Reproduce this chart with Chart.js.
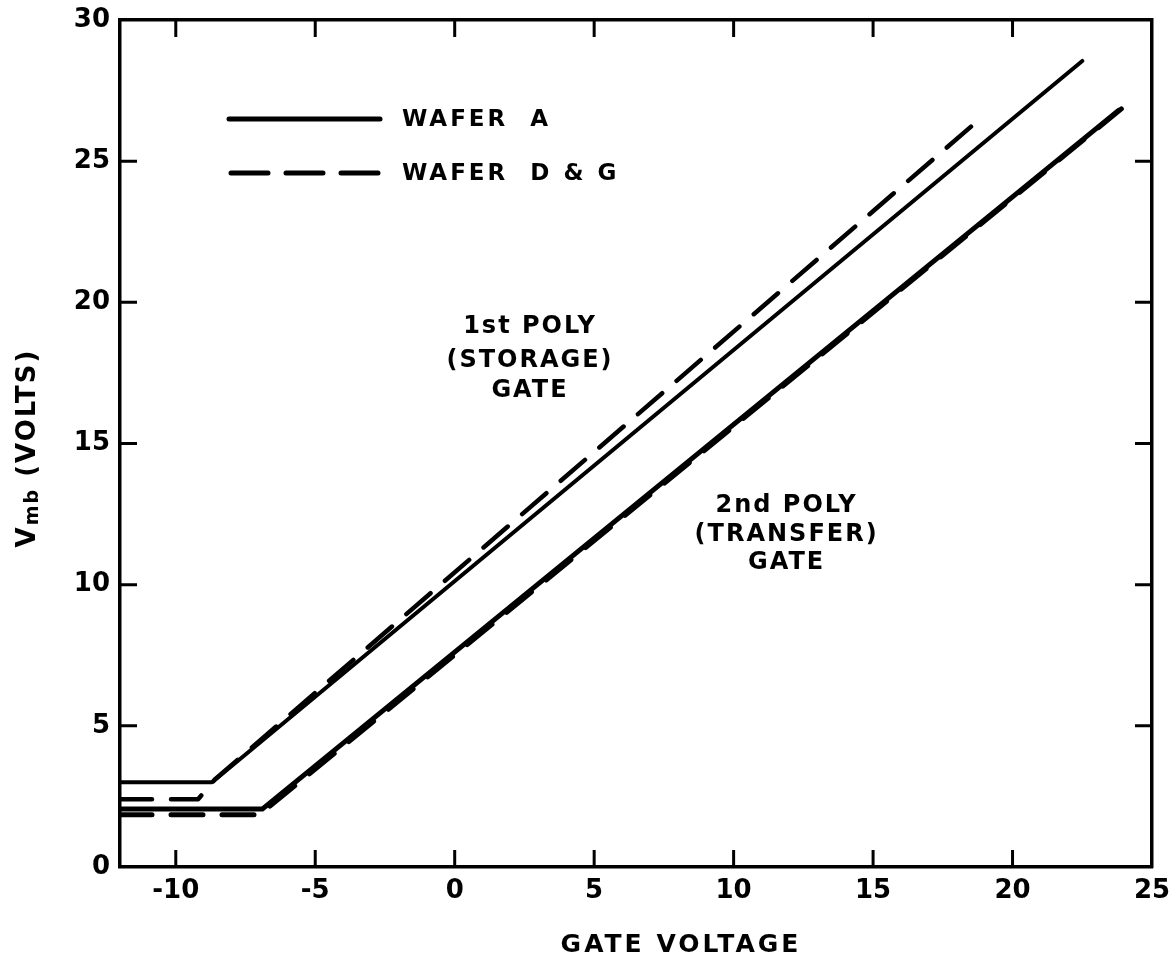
<!DOCTYPE html>
<html>
<head>
<meta charset="utf-8">
<script src="https://cdn.jsdelivr.net/npm/chart.js@4/dist/chart.umd.min.js"></script>
<style>
  html, body { margin: 0; padding: 0; background: #fff; }
  #wrap { width: 1174px; height: 962px; }
</style>
</head>
<body>
<div id="wrap"><canvas id="c" width="1174" height="962"></canvas></div>
<script>
// Surface potential Vmb versus gate voltage for the two poly gate levels
const gateA1  = [-12, -8.7, 22.5];          // Wafer A, 1st poly (storage) gate
const vmbA1   = [3.0, 3.0, 28.55];
const gateA2  = [-12, -6.9, 23.8];          // Wafer A, 2nd poly (transfer) gate
const vmbA2   = [2.05, 2.05, 26.8];
const gateDG1 = [-12, -9.2, -8.6, 18.6];    // Wafers D & G, 1st poly gate
const vmbDG1  = [2.4, 2.4, 3.1, 26.3];
const gateDG2 = [-12, -7.0, 23.9];          // Wafers D & G, 2nd poly gate
const vmbDG2  = [1.85, 1.85, 26.85];

const xTicks = [-10, -5, 0, 5, 10, 15, 20, 25];
const yTicks = [0, 5, 10, 15, 20, 25, 30];

const legendItems = ['WAFER  A', 'WAFER  D & G'];

// gate labels, placed in data units (gate volts, Vmb volts)
const note1Lines = ['1st POLY', '(STORAGE)', 'GATE'];
const note1X = 2.7;
const note1Y = [19.15, 17.92, 16.86];
const note2Lines = ['2nd POLY', '(TRANSFER)', 'GATE'];
const note2X = 11.9;
const note2Y = [12.79, 11.76, 10.77];

const FONT = '"DejaVu Sans", "Liberation Sans", sans-serif';
const DASH = [32, 19];

const pts = (xs, ys) => xs.map((x, i) => ({ x: x, y: ys[i] }));

function lineSet(label, xs, ys, dashed, width) {
  return {
    label: label,
    data: pts(xs, ys),
    showLine: true,
    borderColor: '#000',
    borderWidth: width,
    borderDash: dashed ? DASH : [],
    borderCapStyle: 'round',
    borderJoinStyle: 'round',
    pointRadius: 0,
    fill: false,
    tension: 0
  };
}

// inward tick marks on all four sides, plus legend, notes and titles
const decorations = {
  id: 'decorations',
  afterDatasetsDraw(chart) {
    const ctx = chart.ctx;
    const a = chart.chartArea;
    const sx = chart.scales.x, sy = chart.scales.y;
    const len = 17;
    ctx.save();
    ctx.strokeStyle = '#000';
    ctx.lineWidth = 3;
    ctx.lineCap = 'butt';
    xTicks.forEach(v => {
      const px = sx.getPixelForValue(v);
      if (px <= a.left + 2 || px >= a.right - 2) return;
      ctx.beginPath();
      ctx.moveTo(px, a.bottom); ctx.lineTo(px, a.bottom - len);
      ctx.moveTo(px, a.top); ctx.lineTo(px, a.top + len);
      ctx.stroke();
    });
    yTicks.forEach(v => {
      const py = sy.getPixelForValue(v);
      if (py <= a.top + 2 || py >= a.bottom - 2) return;
      ctx.beginPath();
      ctx.moveTo(a.left, py); ctx.lineTo(a.left + len, py);
      ctx.moveTo(a.right, py); ctx.lineTo(a.right - len, py);
      ctx.stroke();
    });

    // legend
    ctx.lineCap = 'round';
    ctx.lineWidth = 5;
    const lx0 = 229, lx1 = 380;
    const ly = [119, 173];
    ctx.setLineDash([]);
    ctx.beginPath(); ctx.moveTo(lx0, ly[0]); ctx.lineTo(lx1, ly[0]); ctx.stroke();
    ctx.setLineDash([37, 18]);
    ctx.beginPath(); ctx.moveTo(lx0 + 2, ly[1]); ctx.lineTo(lx1, ly[1]); ctx.stroke();
    ctx.setLineDash([]);
    ctx.fillStyle = '#000';
    ctx.textBaseline = 'middle';
    ctx.textAlign = 'left';
    ctx.font = 'bold 23px ' + FONT;
    ctx.letterSpacing = '3px';
    legendItems.forEach((t, i) => ctx.fillText(t, 402, ly[i] + 1));

    // gate annotations
    ctx.textAlign = 'center';
    ctx.font = 'bold 24px ' + FONT;
    ctx.letterSpacing = '2px';
    const cx1 = sx.getPixelForValue(note1X);
    note1Lines.forEach((t, i) => ctx.fillText(t, cx1, sy.getPixelForValue(note1Y[i])));
    const cx2 = sx.getPixelForValue(note2X);
    note2Lines.forEach((t, i) => ctx.fillText(t, cx2, sy.getPixelForValue(note2Y[i])));

    // x title
    ctx.font = 'bold 25px ' + FONT;
    ctx.letterSpacing = '3px';
    ctx.fillText('GATE VOLTAGE', 681, 945);

    // y title with subscript, rotated
    ctx.save();
    ctx.translate(25, 448);
    ctx.rotate(-Math.PI / 2);
    ctx.textAlign = 'left';
    ctx.textBaseline = 'alphabetic';
    const big = 'bold 26px ' + FONT, small = 'bold 19px ' + FONT;
    ctx.letterSpacing = '2px';
    ctx.font = big;  const wV = ctx.measureText('V').width;
    ctx.font = small; const wS = ctx.measureText('mb').width;
    ctx.font = big;  const wR = ctx.measureText(' (VOLTS)').width;
    let x0 = -(wV + wS + wR) / 2;
    const base = 10;
    ctx.font = big;  ctx.fillText('V', x0, base); x0 += wV;
    ctx.font = small; ctx.fillText('mb', x0, base + 3); x0 += wS;
    ctx.font = big;  ctx.fillText(' (VOLTS)', x0, base);
    ctx.restore();
    ctx.restore();
  }
};

const tickFont = { family: FONT, size: 26, weight: 'bold' };
const border = { display: true, color: '#000', width: 3.5 };

// fixed box sizes so the plot frame sits where it should; label overhang is not reserved
const fitH = h => s => { s.height = h; s.paddingLeft = 0; s.paddingRight = 0; };
const fitW = w => s => { s.width = w; s.paddingTop = 0; s.paddingBottom = 0; };

new Chart(document.getElementById('c'), {
  type: 'scatter',
  data: {
    datasets: [
      lineSet('WAFER A 1st poly', gateA1, vmbA1, false, 4),
      lineSet('WAFER A 2nd poly', gateA2, vmbA2, false, 5),
      lineSet('WAFER D & G 1st poly', gateDG1, vmbDG1, true, 4.5),
      lineSet('WAFER D & G 2nd poly', gateDG2, vmbDG2, true, 5)
    ]
  },
  options: {
    responsive: false,
    animation: false,
    devicePixelRatio: 1,
    layout: { padding: 0 },
    plugins: { legend: { display: false }, tooltip: { enabled: false } },
    scales: {
      x: {
        type: 'linear', position: 'bottom', min: -12, max: 25,
        afterBuildTicks: s => { s.ticks = xTicks.map(v => ({ value: v })); },
        afterFit: fitH(95),
        ticks: { color: '#000', font: tickFont, padding: 9, maxRotation: 0 },
        grid: { display: false, drawTicks: false },
        border: border
      },
      x2: {
        type: 'linear', position: 'top', min: -12, max: 25,
        afterFit: fitH(20),
        ticks: { display: false },
        grid: { display: false, drawTicks: false },
        border: border
      },
      y: {
        type: 'linear', position: 'left', min: 0, max: 30,
        afterBuildTicks: s => { s.ticks = yTicks.map(v => ({ value: v })); },
        afterFit: fitW(120),
        ticks: { color: '#000', font: tickFont, padding: 10 },
        grid: { display: false, drawTicks: false },
        border: border
      },
      y2: {
        type: 'linear', position: 'right', min: 0, max: 30,
        afterFit: fitW(22),
        ticks: { display: false },
        grid: { display: false, drawTicks: false },
        border: border
      }
    }
  },
  plugins: [decorations]
});
</script>
</body>
</html>
